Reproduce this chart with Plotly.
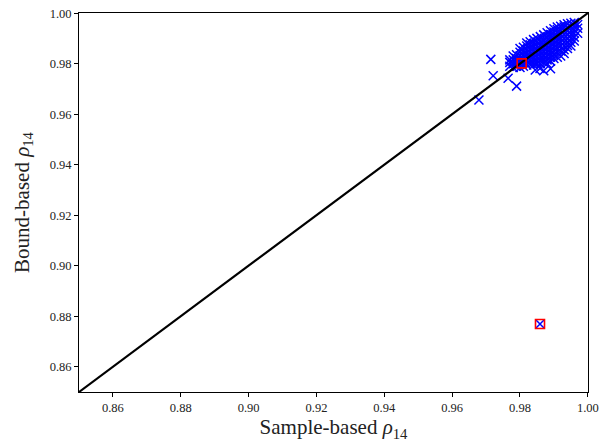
import plotly.graph_objects as go

# Dense main cluster: columns of (x, [y values])
blob_columns = [
    (0.977, [0.9790, 0.9805, 0.9815]),
    (0.978, [0.9785, 0.9800, 0.9815, 0.9830]),
    (0.979, [0.9790, 0.9805, 0.9820, 0.9835]),
    (0.980, [0.9785, 0.9800, 0.9815, 0.9830, 0.9845, 0.9860]),
    (0.981, [0.9790, 0.9805, 0.9820, 0.9835, 0.9850, 0.9865]),
    (0.982, [0.9795, 0.9810, 0.9825, 0.9840, 0.9855, 0.9870, 0.9882]),
    (0.983, [0.9800, 0.9815, 0.9830, 0.9845, 0.9860, 0.9875, 0.9887]),
    (0.984, [0.9795, 0.9805, 0.9820, 0.9835, 0.9850, 0.9865, 0.9880, 0.9895]),
    (0.985, [0.9800, 0.9810, 0.9825, 0.9840, 0.9855, 0.9870, 0.9885, 0.9900]),
    (0.986, [0.9800, 0.9815, 0.9830, 0.9845, 0.9860, 0.9875, 0.9890, 0.9907]),
    (0.987, [0.9805, 0.9820, 0.9835, 0.9850, 0.9865, 0.9880, 0.9895, 0.9914]),
    (0.988, [0.9800, 0.9815, 0.9830, 0.9845, 0.9860, 0.9875, 0.9890, 0.9905, 0.9922]),
    (0.989, [0.9810, 0.9825, 0.9840, 0.9855, 0.9870, 0.9885, 0.9900, 0.9915, 0.9930]),
    (0.990, [0.9820, 0.9835, 0.9850, 0.9865, 0.9880, 0.9895, 0.9910, 0.9925, 0.9938]),
    (0.991, [0.9825, 0.9845, 0.9860, 0.9875, 0.9890, 0.9905, 0.9920, 0.9935, 0.9945]),
    (0.992, [0.9830, 0.9850, 0.9870, 0.9885, 0.9900, 0.9915, 0.9930, 0.9948]),
    (0.993, [0.9840, 0.9855, 0.9870, 0.9885, 0.9900, 0.9915, 0.9930, 0.9945, 0.9954]),
    (0.994, [0.9860, 0.9872, 0.9885, 0.9900, 0.9915, 0.9930, 0.9945, 0.9958]),
    (0.995, [0.9870, 0.9885, 0.9900, 0.9915, 0.9930, 0.9945, 0.9960]),
    (0.996, [0.9890, 0.9905, 0.9920, 0.9935, 0.9950, 0.9963]),
    (0.997, [0.9920, 0.9940, 0.9955]),
]

# Sparse / outlying samples
outlier_x = [0.9714, 0.9721, 0.9765, 0.9790, 0.9679, 0.9859, 0.9845, 0.9870, 0.9890, 0.9859, 0.9805]
outlier_y = [0.9817, 0.9752, 0.9742, 0.9711, 0.9656, 0.9781, 0.9775, 0.9772, 0.9780, 0.8769, 0.9801]

# Highlighted samples (red squares)
highlight_x = [0.9805, 0.9859]
highlight_y = [0.9801, 0.8769]

# Identity line endpoints
diag = [0.85, 1.00]

tick_vals = [0.86, 0.88, 0.90, 0.92, 0.94, 0.96, 0.98, 1.00]
tick_text = ["0.86", "0.88", "0.90", "0.92", "0.94", "0.96", "0.98", "1.00"]

xs, ys = [], []
for cx, col in blob_columns:
    for cy in col:
        xs.append(cx)
        ys.append(cy)
xs += outlier_x
ys += outlier_y

fig = go.Figure()
fig.add_trace(go.Scatter(
    x=xs, y=ys, mode="markers",
    marker=dict(symbol="x-thin", size=9, line=dict(width=1.5, color="#0000ff"), color="#0000ff"),
    showlegend=False, hoverinfo="skip"))
fig.add_trace(go.Scatter(
    x=diag, y=diag, mode="lines",
    line=dict(color="black", width=2.2), showlegend=False, hoverinfo="skip"))
fig.add_trace(go.Scatter(
    x=highlight_x, y=highlight_y, mode="markers",
    marker=dict(symbol="square-open", size=9, line=dict(width=1.6, color="#ff0000"), color="#ff0000"),
    showlegend=False, hoverinfo="skip"))

axis_common = dict(
    range=[0.85, 1.00005], showgrid=False, zeroline=False, automargin=False,
    showline=True, linecolor="black", linewidth=1, mirror=True,
    ticks="outside", ticklen=4, tickwidth=1, tickcolor="black",
    tickvals=tick_vals, ticktext=tick_text, ticklabeloverflow="allow",
    tickfont=dict(family="Liberation Serif", size=12.5, color="#222"),
)

fig.update_layout(
    width=602, height=446,
    margin=dict(l=79, r=14, t=13, b=54),
    paper_bgcolor="white", plot_bgcolor="white",
    font=dict(family="Liberation Serif", color="#222"),
    xaxis=dict(**axis_common,
               title=dict(text="Sample-based <i>ρ</i><sub>14</sub>",
                          font=dict(family="Liberation Serif", size=21), standoff=5)),
    yaxis=dict(**axis_common,
               title=dict(text="Bound-based <i>ρ</i><sub>14</sub>",
                          font=dict(family="Liberation Serif", size=21), standoff=14)),
)

fig.write_html("out.html", config={"displayModeBar": False},
               post_script="document.body.style.margin='0';document.body.style.overflow='hidden';")
